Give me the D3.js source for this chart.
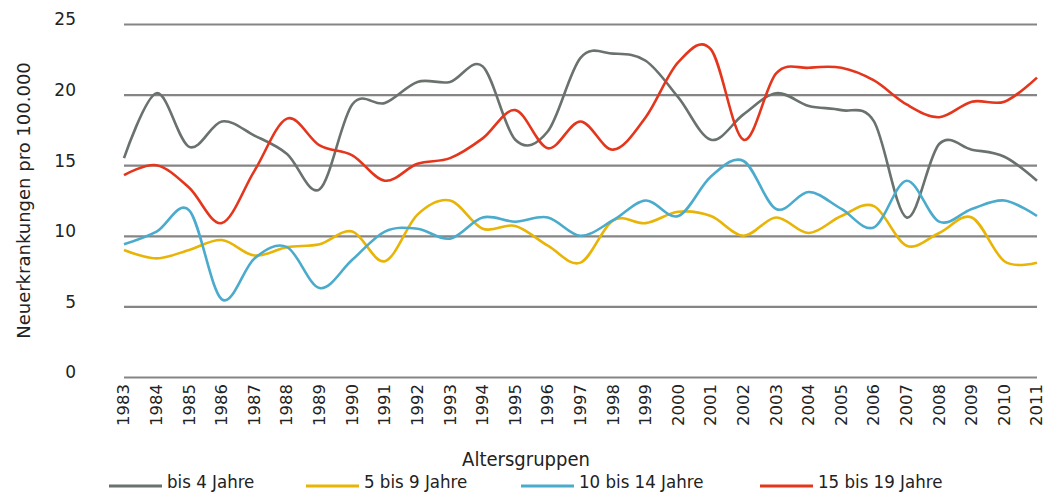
<!DOCTYPE html>
<html>
<head>
<meta charset="utf-8">
<script src="https://cdn.jsdelivr.net/npm/d3@7"></script>
<style>
	body { margin: 0; background: #fff; }
	svg { display: block; }
</style>
</head>
<body>
<div id="graph"></div>
<script>
// Neuerkrankungen pro 100.000 nach Altersgruppen, 1983-2011

var years = d3.range(1983, 2012).map(String);
var yTicks = [0, 5, 10, 15, 20, 25];
var seriesNames = ["bis 4 Jahre", "5 bis 9 Jahre", "10 bis 14 Jahre", "15 bis 19 Jahre"];

var bis4 = [15.5, 20.1, 16.3, 18.1, 17.1, 15.8, 13.3, 19.3, 19.4, 20.9, 20.9, 22.0, 16.8, 17.4,
	22.6, 22.9, 22.4, 19.8, 16.8, 18.6, 20.1, 19.2, 18.9, 18.1, 11.3, 16.5, 16.1, 15.6, 13.9];
var bis9 = [9.0, 8.4, 9.0, 9.7, 8.6, 9.2, 9.4, 10.3, 8.2, 11.5, 12.5, 10.5, 10.7, 9.3,
	8.1, 11.1, 10.9, 11.7, 11.4, 10.0, 11.3, 10.2, 11.4, 12.1, 9.3, 10.2, 11.3, 8.2, 8.1];
var bis14 = [9.4, 10.3, 11.8, 5.5, 8.4, 9.2, 6.3, 8.3, 10.3, 10.5, 9.8, 11.3, 11.0, 11.3,
	10.0, 11.1, 12.5, 11.4, 14.2, 15.3, 11.9, 13.1, 11.9, 10.6, 13.9, 11.0, 11.9, 12.5, 11.4];
var bis19 = [14.3, 15.0, 13.4, 10.9, 14.6, 18.3, 16.4, 15.7, 13.9, 15.1, 15.5, 16.9, 18.9, 16.2,
	18.1, 16.1, 18.4, 22.3, 23.2, 16.8, 21.5, 21.9, 21.9, 21.0, 19.3, 18.4, 19.5, 19.5, 21.2];

(function() {
	var graph = {
		container: {
			svg: null,
			width: 1046,
			height: 493,
			left: 124,
			right: 1037,
			top: 24,
			bottom: 377
		},
		colors: ["#6a726d", "#e8b406", "#4aabcd", "#e4361c"],
		xScale: null,
		yScale: null
	};

	var _initPhase = function() {
		graph.xScale = d3.scalePoint()
			.domain(years)
			.range([graph.container.left, graph.container.right]);
		graph.yScale = d3.scaleLinear()
			.domain([0, 25])
			.range([graph.container.bottom, graph.container.top]);
	};

	// gridlines plus the y tick labels
	var _drawAxis = function() {
		var svg = graph.container.svg;

		var yAxis = d3.axisLeft(graph.yScale)
			.tickValues(yTicks)
			.tickSize(-(graph.container.right - graph.container.left))
			.tickPadding(48)
			.tickFormat(d3.format("d"));

		var gy = svg.append("g")
			.attr("transform", "translate(" + graph.container.left + ",0)")
			.call(yAxis);
		gy.select(".domain").remove();
		gy.selectAll("line").attr("stroke", "#858585").attr("stroke-width", 2.2);
		gy.selectAll("text")
			.attr("font-family", "DejaVu Sans")
			.attr("font-size", 17)
			.attr("fill", "#222")
			.attr("text-anchor", "end")
			.attr("dy", "0.05em");

		var xAxis = d3.axisBottom(graph.xScale).tickSize(0).tickPadding(0);
		var gx = svg.append("g")
			.attr("transform", "translate(0," + (graph.container.bottom + 6) + ")")
			.call(xAxis);
		gx.select(".domain").remove();
		gx.selectAll("text")
			.attr("font-family", "DejaVu Sans")
			.attr("font-size", 16.5)
			.attr("fill", "#222")
			.attr("text-anchor", "end")
			.attr("transform", "rotate(-90)")
			.attr("x", -1)
			.attr("y", -1)
			.attr("dy", "0.36em");

		svg.append("text")
			.attr("transform", "translate(30," + ((graph.container.top + graph.container.bottom) / 2) + ") rotate(-90)")
			.attr("text-anchor", "middle")
			.attr("font-family", "DejaVu Sans")
			.attr("font-size", 18)
			.attr("fill", "#222")
			.text("Neuerkrankungen pro 100.000");

		svg.append("text")
			.attr("x", 526)
			.attr("y", 466)
			.attr("text-anchor", "middle")
			.attr("font-family", "DejaVu Sans Condensed")
			.attr("font-size", 20)
			.attr("fill", "#222")
			.text("Altersgruppen");
	};

	var _drawLines = function() {
		var all = [bis4, bis9, bis14, bis19];
		var line = d3.line()
			.x(function(d, i) { return graph.xScale(years[i]); })
			.y(function(d) { return graph.yScale(d); })
			.curve(d3.curveCatmullRom.alpha(0));

		graph.container.svg.append("g").selectAll("path")
			.data(all)
			.enter()
			.append("path")
			.attr("d", line)
			.attr("fill", "none")
			.attr("stroke", function(d, i) { return graph.colors[i]; })
			.attr("stroke-width", 2.6)
			.attr("stroke-linejoin", "round");
	};

	var _drawLegend = function() {
		var lineX = [109, 306, 521, 760];
		var g = graph.container.svg.append("g");
		seriesNames.forEach(function(name, i) {
			g.append("line")
				.attr("x1", lineX[i])
				.attr("x2", lineX[i] + 53)
				.attr("y1", 486)
				.attr("y2", 486)
				.attr("stroke", graph.colors[i])
				.attr("stroke-width", 3);
			g.append("text")
				.attr("x", lineX[i] + 58)
				.attr("y", 488)
				.attr("font-family", "DejaVu Sans Condensed")
				.attr("font-size", 18.5)
				.attr("fill", "#222")
				.text(name);
		});
	};

	graph.container.svg = d3.select("#graph").append("svg")
		.attr("width", graph.container.width)
		.attr("height", graph.container.height);

	_initPhase();
	_drawAxis();
	_drawLines();
	_drawLegend();
})();
</script>
</body>
</html>
